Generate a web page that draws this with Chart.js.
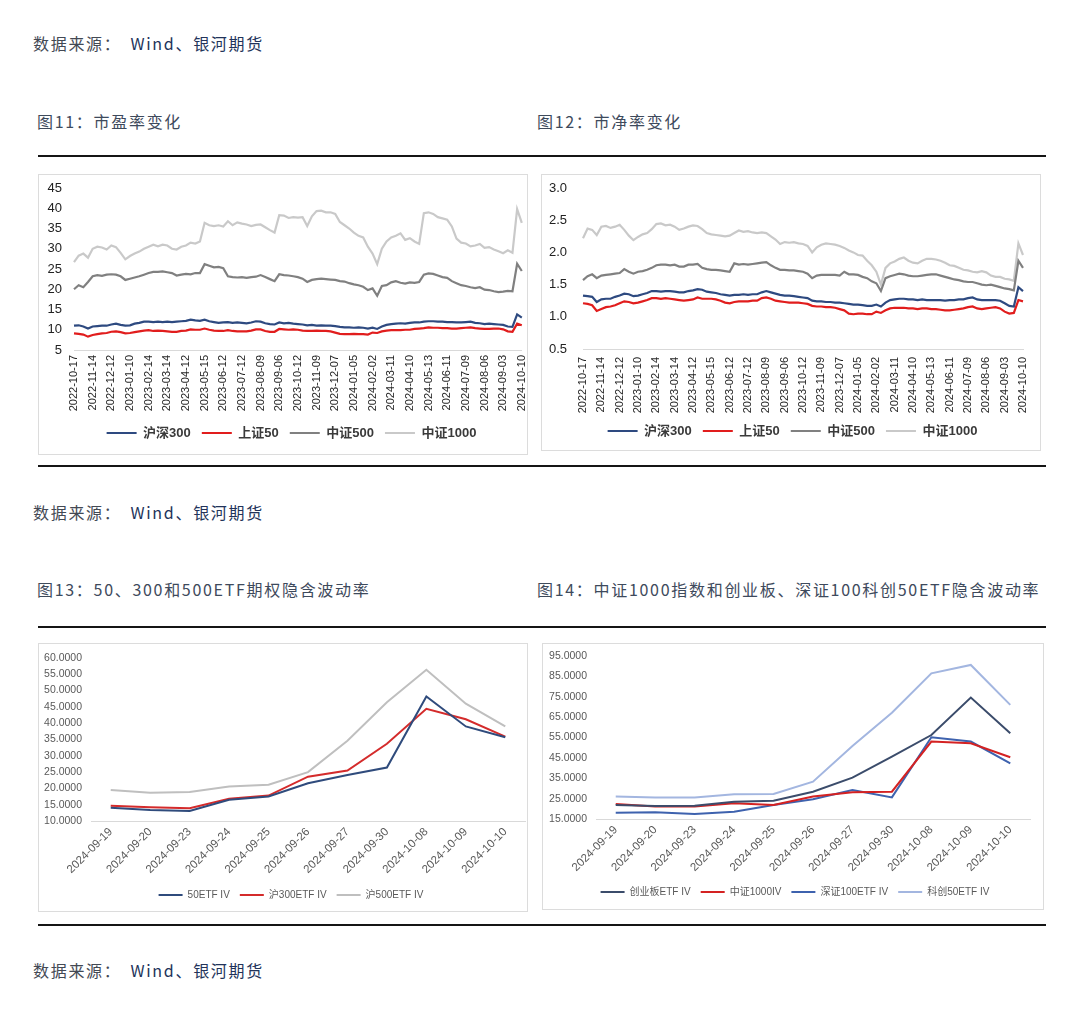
<!DOCTYPE html>
<html><head><meta charset="utf-8">
<script src="https://cdn.jsdelivr.net/npm/chart.js@4.4.1/dist/chart.umd.min.js"></script>
<style>
html,body{margin:0;padding:0;background:#fff;}
body{width:1080px;height:1035px;position:relative;overflow:hidden;font-family:"Noto Sans CJK SC","Noto Sans",sans-serif;}
.t{position:absolute;white-space:nowrap;line-height:1;font-size:16px;letter-spacing:1.7px;}
.src{color:#434954;}
.src span{color:#22335a;margin-left:9px;}
.ttl{color:#3e4a5c;}
.rule{position:absolute;left:38px;width:1008px;height:2px;background:#151515;}
.box{position:absolute;border:1px solid #dcdcdc;box-sizing:border-box;}
.box canvas{position:absolute;left:0;top:0;}
</style></head>
<body>
<div class="t src" style="left:33px;top:35px;">数据来源：<span>Wind、银河期货</span></div>
<div class="t ttl" style="left:37px;top:113px;">图11：市盈率变化</div>
<div class="t ttl" style="left:537px;top:113px;">图12：市净率变化</div>
<div class="rule" style="top:155px;"></div>
<div class="box" style="left:38px;top:174px;width:490px;height:281px;"><canvas id="c1" width="496" height="279"></canvas></div>
<div class="box" style="left:541px;top:174px;width:500px;height:277px;"><canvas id="c2" width="498" height="275"></canvas></div>
<div class="rule" style="top:465px;"></div>
<div class="t src" style="left:33px;top:504px;">数据来源：<span>Wind、银河期货</span></div>
<div class="t ttl" style="left:37px;top:581px;">图13：50、300和500ETF期权隐含波动率</div>
<div class="t ttl" style="left:537px;top:581px;">图14：中证1000指数和创业板、深证100科创50ETF隐含波动率</div>
<div class="rule" style="top:626px;"></div>
<div class="box" style="left:38px;top:643px;width:490px;height:269px;"><canvas id="c3" width="488" height="267"></canvas></div>
<div class="box" style="left:542px;top:643px;width:502px;height:267px;"><canvas id="c4" width="500" height="265"></canvas></div>
<div class="rule" style="top:924px;"></div>
<div class="t src" style="left:33px;top:962px;">数据来源：<span>Wind、银河期货</span></div>
<script>
// ---------- data ----------
const tickDates = ['2022-10-17','2022-11-14','2022-12-12','2023-01-10','2023-02-14','2023-03-14','2023-04-12','2023-05-15','2023-06-12','2023-07-12','2023-08-09','2023-09-06','2023-10-12','2023-11-09','2023-12-07','2024-01-05','2024-02-02','2024-03-11','2024-04-10','2024-05-13','2024-06-11','2024-07-09','2024-08-06','2024-09-03','2024-10-10'];
const STEP = 4; // weekly samples between monthly tick dates

const pe300 = [11.0,11.1,10.8,10.3,10.8,10.9,11.0,11.0,11.3,11.5,
 11.2,11.0,11.1,11.5,11.7,12.0,12.0,11.9,12.0,11.9,
 12.0,11.9,12.0,12.1,12.2,12.5,12.3,12.2,12.5,12.1,
 11.9,11.7,11.8,11.9,11.7,11.8,11.7,11.6,11.8,12.1,
 12.0,11.6,11.4,11.3,11.8,11.6,11.7,11.5,11.4,11.3,
 11.1,11.2,11.0,11.1,11.0,11.0,10.9,10.7,10.6,10.6,
 10.5,10.6,10.5,10.3,10.5,10.2,10.8,11.2,11.4,11.5,
 11.6,11.5,11.7,11.8,11.8,12.0,12.1,12.1,12.0,12.0,
 11.9,11.9,11.8,11.8,11.9,12.0,11.7,11.6,11.4,11.5,
 11.4,11.3,11.2,10.8,10.7,13.8,13.0];
const pe50 = [9.1,9.0,8.8,8.3,8.7,8.9,9.1,9.2,9.5,9.6,
 9.4,9.1,9.2,9.4,9.6,9.8,9.9,9.7,9.8,9.7,
 9.6,9.5,9.5,9.7,9.8,10.1,10.0,10.0,10.3,10.0,
 9.8,9.7,9.7,9.9,9.7,9.6,9.6,9.6,9.8,10.1,
 10.1,9.7,9.5,9.5,10.2,10.1,10.0,10.1,10.0,9.8,
 9.7,9.7,9.8,9.7,9.7,9.6,9.3,9.0,8.9,8.9,
 9.0,8.9,8.9,8.8,9.3,9.2,9.6,9.8,9.9,9.9,
 9.9,10.0,10.0,10.2,10.3,10.4,10.6,10.5,10.5,10.4,
 10.4,10.3,10.3,10.4,10.5,10.6,10.4,10.3,10.2,10.2,
 10.3,10.3,10.1,9.6,9.5,11.5,11.1];
const pe500 = [20.0,21.0,20.5,21.8,23.2,23.5,23.3,23.6,23.7,23.6,
 23.2,22.3,22.6,22.9,23.2,23.6,24.0,24.3,24.3,24.4,
 24.2,24.0,23.4,23.6,23.8,23.7,24.0,24.0,26.2,25.8,
 25.4,25.5,25.2,23.2,23.0,22.9,23.0,22.8,23.0,23.1,
 23.5,23.0,22.5,22.0,23.7,23.5,23.4,23.2,23.0,22.6,
 21.8,22.3,22.5,22.6,22.5,22.4,22.3,22.0,21.9,21.5,
 21.2,21.0,20.6,19.8,20.2,18.4,20.8,21.0,21.7,22.0,
 21.6,21.4,21.7,21.6,21.8,23.6,23.9,23.8,23.4,23.0,
 22.8,22.0,21.5,21.0,20.8,20.5,20.3,20.5,19.9,19.8,
 19.5,19.3,19.4,19.6,19.5,26.3,24.5];
const pe1000 = [26.7,28.3,28.8,27.8,30.0,30.5,30.3,29.8,30.8,30.4,
 29.0,27.4,28.2,28.8,29.3,30.0,30.5,31.0,30.6,31.0,
 30.8,30.0,29.8,30.5,30.8,31.5,31.3,31.8,36.4,35.8,
 35.6,35.8,35.5,36.8,35.8,36.5,36.2,36.0,35.6,35.9,
 36.0,35.3,34.6,34.0,38.3,38.2,37.6,37.8,37.7,37.8,
 35.6,38.0,39.3,39.4,39.0,39.0,38.6,36.6,35.8,35.0,
 34.0,33.2,32.8,30.5,28.8,26.2,30.0,31.8,32.8,33.2,
 33.8,32.2,32.6,31.8,31.2,38.8,39.0,38.6,37.8,37.5,
 37.2,35.5,32.5,31.5,31.3,30.6,30.8,31.2,30.2,30.4,
 29.8,29.4,28.9,29.6,29.0,39.8,36.4];

const pb300 = [1.33,1.32,1.31,1.23,1.27,1.28,1.28,1.31,1.33,1.36,
 1.35,1.32,1.33,1.35,1.37,1.40,1.40,1.39,1.40,1.40,
 1.39,1.38,1.38,1.40,1.41,1.43,1.42,1.39,1.38,1.37,
 1.35,1.34,1.33,1.34,1.34,1.35,1.34,1.35,1.35,1.38,
 1.40,1.38,1.36,1.34,1.33,1.33,1.32,1.31,1.30,1.29,
 1.25,1.24,1.24,1.23,1.23,1.22,1.22,1.21,1.20,1.19,
 1.19,1.18,1.17,1.17,1.19,1.16,1.22,1.26,1.27,1.28,
 1.28,1.27,1.27,1.26,1.27,1.26,1.26,1.26,1.26,1.25,
 1.26,1.26,1.27,1.27,1.29,1.30,1.27,1.26,1.26,1.26,
 1.26,1.25,1.21,1.17,1.16,1.46,1.40];
const pb50 = [1.21,1.20,1.18,1.09,1.12,1.15,1.16,1.18,1.21,1.24,
 1.23,1.21,1.22,1.24,1.26,1.29,1.29,1.28,1.29,1.28,
 1.27,1.26,1.25,1.26,1.27,1.30,1.28,1.28,1.28,1.27,
 1.25,1.22,1.21,1.23,1.24,1.24,1.24,1.25,1.25,1.29,
 1.30,1.28,1.25,1.24,1.23,1.22,1.22,1.22,1.21,1.20,
 1.17,1.16,1.16,1.15,1.15,1.14,1.12,1.10,1.05,1.04,
 1.05,1.05,1.04,1.04,1.08,1.06,1.10,1.13,1.14,1.14,
 1.14,1.13,1.13,1.12,1.13,1.13,1.12,1.12,1.11,1.10,
 1.10,1.11,1.12,1.13,1.15,1.16,1.13,1.12,1.13,1.14,
 1.15,1.13,1.08,1.05,1.06,1.26,1.24];
const pb500 = [1.57,1.63,1.66,1.60,1.64,1.65,1.66,1.67,1.68,1.74,
 1.70,1.67,1.70,1.71,1.73,1.76,1.80,1.81,1.81,1.80,
 1.81,1.78,1.78,1.81,1.81,1.82,1.76,1.74,1.73,1.73,
 1.72,1.71,1.70,1.83,1.81,1.82,1.81,1.82,1.83,1.84,
 1.85,1.80,1.76,1.73,1.73,1.72,1.72,1.71,1.70,1.67,
 1.60,1.64,1.65,1.65,1.65,1.65,1.64,1.70,1.66,1.66,
 1.65,1.62,1.60,1.55,1.52,1.40,1.60,1.63,1.65,1.67,
 1.66,1.64,1.63,1.63,1.64,1.65,1.66,1.66,1.64,1.62,
 1.60,1.58,1.57,1.55,1.54,1.54,1.52,1.50,1.49,1.50,
 1.48,1.46,1.44,1.43,1.41,1.87,1.76];
const pb1000 = [2.22,2.37,2.35,2.27,2.40,2.41,2.38,2.40,2.43,2.35,
 2.26,2.19,2.24,2.28,2.30,2.36,2.44,2.45,2.42,2.43,
 2.40,2.35,2.37,2.40,2.42,2.41,2.36,2.30,2.28,2.27,
 2.26,2.25,2.26,2.30,2.34,2.32,2.33,2.31,2.30,2.31,
 2.30,2.25,2.20,2.13,2.16,2.15,2.16,2.14,2.13,2.10,
 2.00,2.08,2.12,2.14,2.13,2.12,2.10,2.07,2.03,2.00,
 1.96,1.95,1.87,1.80,1.70,1.50,1.76,1.83,1.86,1.90,
 1.92,1.87,1.84,1.83,1.87,1.90,1.90,1.89,1.87,1.84,
 1.80,1.79,1.76,1.73,1.72,1.70,1.69,1.71,1.69,1.64,
 1.62,1.62,1.59,1.58,1.56,2.14,1.96];

const ivDates = ['2024-09-19','2024-09-20','2024-09-23','2024-09-24','2024-09-25','2024-09-26','2024-09-27','2024-09-30','2024-10-08','2024-10-09','2024-10-10'];
const iv50   = [14.1,13.4,13.1,16.5,17.5,21.6,24.1,26.4,48.2,39.0,35.7];
const iv300  = [14.7,14.2,13.9,16.8,17.8,23.6,25.5,33.7,44.4,41.2,35.9];
const iv500  = [19.5,18.7,18.9,20.6,21.1,25.0,34.6,46.4,56.4,46.0,39.0];
const ivCyb  = [21.9,21.4,21.5,23.5,24.0,28.4,35.3,45.6,56.2,74.6,57.1];
const iv1000 = [22.4,21.1,21.1,22.7,21.9,26.0,28.1,28.4,53.0,52.2,45.3];
const ivSz100= [18.1,18.3,17.5,18.6,21.9,24.7,29.2,25.6,55.1,53.0,42.3];
const ivKc50 = [26.0,25.6,25.5,27.1,27.3,33.3,50.8,67.2,86.5,90.6,71.0];

// ---------- helpers ----------
const longLabels = Array.from({length:(tickDates.length-1)*STEP+1}, (_,i)=> i%STEP===0 ? tickDates[i/STEP] : '');
const ARIAL = '"Liberation Sans", Arial, "Noto Sans CJK SC", sans-serif';

// nudges the bottom legend horizontally (legend box is otherwise centred on the canvas)
const legendShift = {
  id:'legendShift',
  afterLayout(chart, args, opts){
    const dx = opts.dx || 0;
    if (chart.legend && dx){ chart.legend.left += dx; chart.legend.right += dx; }
  }
};

function legendOpts(size, bold, color, boxW, pad){
  return {position:'bottom', labels:{
    boxWidth:boxW, boxHeight:2, padding:pad, color:color,
    font:{size:size, weight: bold?'bold':'normal', family:ARIAL},
    generateLabels: ch => Chart.defaults.plugins.legend.labels.generateLabels(ch).map(l => Object.assign(l,{lineWidth:0, fillStyle:l.strokeStyle}))
  }};
}
function ds(label, data, color, w){ return {label, data, borderColor:color, backgroundColor:color, borderWidth:w, pointRadius:0, tension:0, fill:false}; }

function longChart(id, datasets, yMin, yMax, yStep, dec, pad, yW, xH, yGap, xGap, dx){
  return new Chart(document.getElementById(id), {
    type:'line',
    data:{labels:longLabels, datasets},
    plugins:[legendShift],
    options:{
      responsive:false, animation:false, devicePixelRatio:1,
      layout:{padding:pad},
      plugins:{legend:legendOpts(13,true,'#3a3a3a',30,11), tooltip:{enabled:false}, legendShift:{dx}},
      scales:{
        x:{grid:{display:false, drawTicks:true, tickLength:xGap}, border:{color:'#d9d9d9',width:1},
           ticks:{autoSkip:false, minRotation:90, maxRotation:90, padding:0, color:'#262626', font:{size:11, family:ARIAL}},
           afterFit:s=>{s.height=xH;}},
        y:{min:yMin, max:yMax, grid:{display:false, drawTicks:true, tickLength:yGap}, border:{display:false},
           ticks:{stepSize:yStep, padding:0, color:'#222', font:{size:13, family:ARIAL}, callback:v=>v.toFixed(dec)},
           afterFit:s=>{s.width=yW;}}
      }
    }
  });
}
function ivChart(id, datasets, yMin, yMax, yStep, pad, yW, xH, dx){
  return new Chart(document.getElementById(id), {
    type:'line',
    data:{labels:ivDates, datasets},
    plugins:[legendShift],
    options:{
      responsive:false, animation:false, devicePixelRatio:1,
      layout:{padding:pad},
      plugins:{legend:legendOpts(10,false,'#595959',24,10), tooltip:{enabled:false}, legendShift:{dx}},
      scales:{
        x:{offset:true, grid:{display:false, drawTicks:true, tickLength:4}, border:{color:'#d9d9d9',width:1},
           ticks:{autoSkip:false, minRotation:45, maxRotation:45, padding:0, color:'#595959', font:{size:11.5, family:ARIAL}},
           afterFit:s=>{s.height=xH;}},
        y:{min:yMin, max:yMax, grid:{display:false, drawTicks:true, tickLength:9}, border:{display:false},
           ticks:{stepSize:yStep, padding:0, color:'#595959', font:{size:10.5, family:ARIAL}, callback:v=>v.toFixed(4)},
           afterFit:s=>{s.width=yW;}}
      }
    }
  });
}

// ---------- charts ----------
longChart('c1', [
  ds('沪深300', pe300, '#2e4a80', 2.2),
  ds('上证50', pe50, '#e11d1d', 2.2),
  ds('中证500', pe500, '#808080', 2.2),
  ds('中证1000', pe1000, '#c9c9c9', 2.2)
], 5, 45, 5, 0, {left:0,right:8,top:13,bottom:4.5}, 35, 65.5, 12, 5, 8.5);

longChart('c2', [
  ds('沪深300', pb300, '#2e4a80', 2.2),
  ds('上证50', pb50, '#e11d1d', 2.2),
  ds('中证500', pb500, '#808080', 2.2),
  ds('中证1000', pb1000, '#c9c9c9', 2.2)
], 0.5, 3.0, 0.5, 1, {left:0,right:17,top:13,bottom:2.5}, 41, 64.5, 16, 8, 10);

ivChart('c3', [
  ds('50ETF IV', iv50, '#2f4b7c', 2),
  ds('沪300ETF IV', iv300, '#d42b2b', 2),
  ds('沪500ETF IV', iv500, '#bfbfbf', 2)
], 10, 60, 5, {left:0,right:2,top:14,bottom:1}, 52, 59, 9);

ivChart('c4', [
  ds('创业板ETF IV', ivCyb, '#3b4c6b', 2),
  ds('中证1000IV', iv1000, '#d42222', 2),
  ds('深证100ETF IV', ivSz100, '#3e62ae', 2),
  ds('科创50ETF IV', ivKc50, '#a3b6e0', 2)
], 15, 95, 10, {left:0,right:13,top:12,bottom:2}, 53, 58, 8.5);
</script>
</body></html>
